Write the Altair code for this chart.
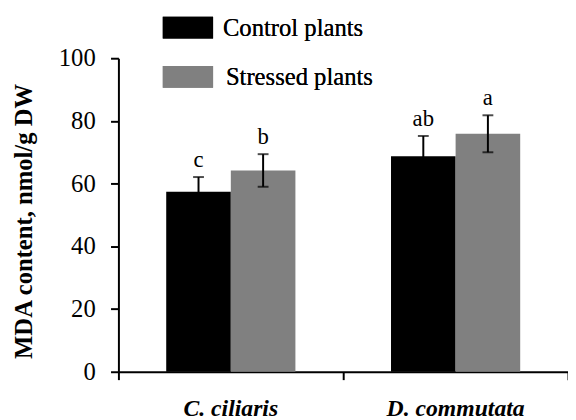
import altair as alt
import pandas as pd

species = ["C. ciliaris", "C. ciliaris", "D. commutata", "D. commutata"]
treatment = ["Control plants", "Stressed plants", "Control plants", "Stressed plants"]
means = [57.4, 64.2, 68.7, 75.9]
errs = [4.7, 5.2, 6.5, 5.9]
letters = ["c", "b", "ab", "a"]
y_ticks = [0, 20, 40, 60, 80, 100]
categories = ["C. ciliaris", "D. commutata"]
legend_labels = ["Control plants", "Stressed plants"]
colors = ["#000000", "#808080"]

df = pd.DataFrame({
    "species": species,
    "treatment": treatment,
    "mean": means,
    "err": errs,
    "letter": letters,
})
df["lo"] = df["mean"] - df["err"]
df["hi"] = df["mean"] + df["err"]
df_ticks = pd.DataFrame({"v": y_ticks})
df_cat = pd.DataFrame({"species": categories})

SERIF = "Liberation Serif"

x_scale = alt.Scale(domain=categories, paddingInner=0, paddingOuter=0)
x_enc = alt.X("species:N", scale=x_scale,
              axis=alt.Axis(title=None, labels=False,
                            tickBand="extent", tickSize=8, tickWidth=2,
                            tickColor="black", domainColor="black",
                            domainWidth=2))
xoff = alt.XOffset("treatment:N", sort=legend_labels,
                   scale=alt.Scale(paddingInner=0, paddingOuter=0.74))

y_scale = alt.Scale(domain=[0, 100], nice=False)

bars = alt.Chart(df).mark_bar().encode(
    x=x_enc,
    xOffset=xoff,
    y=alt.Y("mean:Q", scale=y_scale,
            axis=alt.Axis(title="MDA content, nmol/g DW", values=y_ticks,
                          grid=False, labels=False, tickSize=8,
                          tickWidth=2, tickColor="black", domainColor="black",
                          domainWidth=2, titleFontSize=25, titleFont=SERIF,
                          titleFontWeight="bold", titleColor="black",
                          titleX=-96, titleY=165, titleAngle=-90,
                          titleBaseline="middle", titleAlign="center")),
    color=alt.Color("treatment:N",
                    scale=alt.Scale(domain=legend_labels, range=colors),
                    legend=None),
)

rules = alt.Chart(df).mark_rule(color="black", strokeWidth=2).encode(
    x=alt.X("species:N", scale=x_scale),
    xOffset=xoff,
    y=alt.Y("lo:Q", scale=y_scale),
    y2="hi:Q",
)

cap_hi = alt.Chart(df).mark_tick(color="black", thickness=2, size=11).encode(
    x=alt.X("species:N", scale=x_scale),
    xOffset=xoff,
    y=alt.Y("hi:Q", scale=y_scale),
)
cap_lo = alt.Chart(df).mark_tick(color="black", thickness=2, size=11).encode(
    x=alt.X("species:N", scale=x_scale),
    xOffset=xoff,
    y=alt.Y("lo:Q", scale=y_scale),
)

letter_text = alt.Chart(df).mark_text(fontSize=23, color="black", font=SERIF,
                                      baseline="bottom", dy=-5).encode(
    x=alt.X("species:N", scale=x_scale),
    xOffset=xoff,
    y=alt.Y("hi:Q", scale=y_scale),
    text="letter:N",
)

ytick_text = alt.Chart(df_ticks).mark_text(
    fontSize=25, color="black", font=SERIF, align="right", baseline="middle"
).encode(
    x=alt.value(-23),
    y=alt.Y("v:Q", scale=y_scale),
    text=alt.Text("v:Q", format="d"),
)

xcat_text = alt.Chart(df_cat).mark_text(
    fontSize=24, color="black", font=SERIF, fontWeight="bold",
    fontStyle="italic", align="center", baseline="alphabetic"
).encode(
    x=alt.X("species:N", scale=x_scale, bandPosition=0.5),
    y=alt.value(363),
    text="species:N",
)

leg_rect1 = alt.Chart(df_cat).mark_rect(color=colors[0]).encode(
    x=alt.value(45), x2=alt.value(96), y=alt.value(-42), y2=alt.value(-20))
leg_rect2 = alt.Chart(df_cat).mark_rect(color=colors[1]).encode(
    x=alt.value(45), x2=alt.value(96), y=alt.value(8), y2=alt.value(30))
leg_text1 = alt.Chart(df_cat).mark_text(
    fontSize=25, color="black", font=SERIF, align="left", baseline="middle"
).encode(x=alt.value(106), y=alt.value(-31), text=alt.value(legend_labels[0]))
leg_text2 = alt.Chart(df_cat).mark_text(
    fontSize=25, color="black", font=SERIF, align="left", baseline="middle"
).encode(x=alt.value(109), y=alt.value(19), text=alt.value(legend_labels[1]))

chart = alt.layer(bars, rules, cap_hi, cap_lo, letter_text, ytick_text,
                  xcat_text, leg_rect1, leg_rect2, leg_text1, leg_text2).properties(
    width=456, height=318,
    autosize=alt.AutoSizeParams(type="none"),
    padding={"left": 112, "top": 48, "right": 0, "bottom": 46},
).configure(background="white").configure_view(stroke=None)

chart.save("out.html", embed_options={"renderer": "svg", "actions": False})
